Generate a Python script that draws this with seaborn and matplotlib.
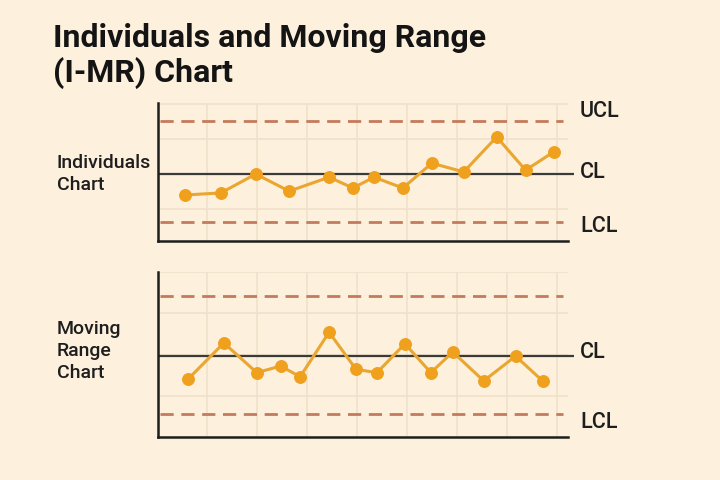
import matplotlib
matplotlib.use("Agg")
import matplotlib.pyplot as plt
import seaborn as sns
import pandas as pd

# ---- data ----
ind_x = [0.55, 1.27, 1.97, 2.64, 3.44, 3.92, 4.34, 4.92, 5.50, 6.14, 6.80, 7.38, 7.94]
ind_y = [44.0, 44.6, 50.0, 45.1, 49.1, 46.0, 49.1, 46.0, 53.1, 50.6, 60.6, 51.1, 56.3]
ind_ucl, ind_cl, ind_lcl = 65.1, 50.0, 36.3

mr_x = [0.61, 1.33, 1.99, 2.47, 2.86, 3.44, 3.98, 4.40, 4.96, 5.48, 5.92, 6.54, 7.18, 7.72]
mr_y = [7.0, 11.4, 7.8, 8.6, 7.3, 12.7, 8.2, 7.8, 11.3, 7.8, 10.3, 6.8, 9.8, 6.8]
mr_ucl, mr_cl, mr_lcl = 17.1, 9.8, 2.8

title_lines = ["Individuals and Moving Range", "(I-MR) Chart"]
panel_labels = ["Individuals\nChart", "Moving\nRange\nChart"]

BG = "#FDF0DC"
ORANGE = "#EFA01C"
LINE = "#E9A630"
DASH = "#C47A5C"
GRID = "#F0E1CA"
INK = "#1E1E1E"

sns.set_theme(style="white")
plt.rcParams["font.family"] = ["Roboto", "DejaVu Sans"]
plt.rcParams["lines.scale_dashes"] = False

fig = plt.figure(figsize=(7.2, 4.8), dpi=100, facecolor=BG)
W, H = 720, 480

def axes_px(left, top, right, bottom):
    return fig.add_axes([left / W, 1 - bottom / H, (right - left) / W, (bottom - top) / H])

ax1 = axes_px(157.5, 103, 568, 241)
ax2 = axes_px(157.5, 272, 568, 437)

def style(ax, ylim, yticks):
    ax.set_facecolor(BG)
    ax.set_xlim(0, 8.23)
    ax.set_ylim(*ylim)
    ax.set_xticks(range(1, 9))
    ax.set_yticks(yticks)
    ax.grid(True, color=GRID, linewidth=1.2)
    ax.tick_params(left=False, bottom=False, labelleft=False, labelbottom=False)
    for s in ["top", "right"]:
        ax.spines[s].set_visible(False)
    for s in ["left", "bottom"]:
        ax.spines[s].set_color(INK)
        ax.spines[s].set_linewidth(1.8)
    ax.set_xlabel("")
    ax.set_ylabel("")

style(ax1, (30.86, 70.3), [40, 50, 60, 70])
style(ax2, (0, 20), [5, 10, 15, 20])

dash = (0, (9.5, 5.5))
for ax, ucl, cl, lcl in [(ax1, ind_ucl, ind_cl, ind_lcl), (ax2, mr_ucl, mr_cl, mr_lcl)]:
    ax.hlines([ucl, lcl], 0.05, 8.12, colors=DASH, linestyles=dash, linewidth=2.0, zorder=2)
    ax.hlines(cl, 0, 8.35, colors="#3a3a3a", linewidth=1.6, zorder=2, clip_on=False)

df1 = pd.DataFrame({"x": ind_x, "y": ind_y})
df2 = pd.DataFrame({"x": mr_x, "y": mr_y})
for ax, df in [(ax1, df1), (ax2, df2)]:
    sns.lineplot(data=df, x="x", y="y", ax=ax, color=LINE, linewidth=2.2,
                 marker="o", markersize=8.5, markerfacecolor=ORANGE,
                 markeredgecolor=ORANGE, zorder=3)
    ax.set_xlabel("")
    ax.set_ylabel("")

lab_kw = dict(fontsize=15.5, fontweight="medium", color=INK, va="center", ha="left",
              clip_on=False)
lx = 8.47
ax1.text(lx, 68.0, "UCL", **lab_kw)
ax1.text(lx, 50.3, "CL", **lab_kw)
ax1.text(lx, 35.1, "LCL", **lab_kw)
ax2.text(lx, 10.3, "CL", **lab_kw)
ax2.text(lx, 1.7, "LCL", **lab_kw)

fig.text(53 / W, 1 - 47 / H, title_lines[0], fontsize=23, fontweight="bold",
         color="#141414", va="baseline", ha="left")
fig.text(53 / W, 1 - 82 / H, title_lines[1], fontsize=23, fontweight="bold",
         color="#141414", va="baseline", ha="left")

fig.text(57 / W, 1 - 174 / H, panel_labels[0], fontsize=14, fontweight="medium",
         color=INK, va="center", ha="left", linespacing=1.3)
fig.text(57 / W, 1 - 351 / H, panel_labels[1], fontsize=14, fontweight="medium",
         color=INK, va="center", ha="left", linespacing=1.32)

fig.savefig("out.png", dpi=100, facecolor=BG)
